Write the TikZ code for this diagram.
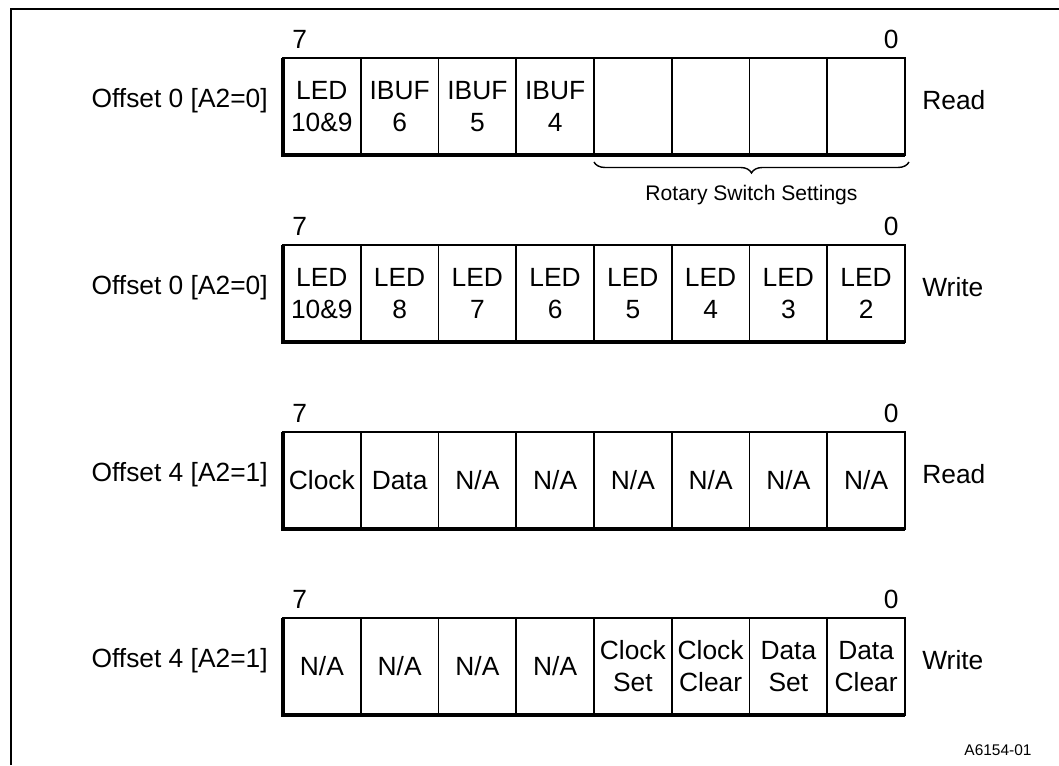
\documentclass[tikz,border=0pt]{standalone}
\usepackage{fontspec}
\setmainfont{Liberation Sans}
\usetikzlibrary{positioning,decorations.pathreplacing}

\begin{document}
\begin{tikzpicture}[
  x=0.02cm, y=-0.02cm,
  font=\fontsize{15}{18.2}\selectfont,
  cell/.style={draw, line width=1.1pt, minimum width=1.555cm, minimum height=1.94cm, inner sep=0pt, outer sep=0pt, anchor=north west, align=center},
  shadow/.style={line width=2.5pt},
  offlbl/.style={inner sep=0pt, yshift=0.12cm},
  bitno/.style={inner sep=0pt}
]
\useasboundingbox (0,0) rectangle (1059,765);
\draw[line width=1.4pt] (11,765) -- (11,9) -- (1059,9);

% offset 0, read
\foreach \txt [count=\k from 0] in {{LED\\10\&9},{IBUF\\6},{IBUF\\5},{IBUF\\4}}
  \node[cell] (a\k) at (283+77.75*\k,58) {\txt};
\foreach \k in {4,...,7}
  \node[cell] (a\k) at (283+77.75*\k,58) {};
\draw[shadow] (a0.north west) -- (a0.south west) -- (a7.south east);
\node[offlbl, left=0.3cm of a0] (a-off) {Offset 0 [A2=0]};
\node[offlbl, right=0.34cm of a7] (a-mode) {Read};
\node[bitno, above right=0.18cm and 0.18cm of a0.north west] (a-msb) {7};
\node[bitno, above left=0.18cm and 0.12cm of a7.north east] (a-lsb) {0};
\draw[line width=0.8pt, decorate, decoration={brace, mirror, amplitude=0.22cm}]
  ([yshift=-0.14cm]a4.south west) -- ([shift={(0.08cm,-0.14cm)}]a7.south east)
  node[midway, below=0.46cm, inner sep=0pt, font=\fontsize{12}{14}\selectfont] (rotary) {Rotary Switch Settings};

% offset 0, write
\foreach \txt [count=\k from 0] in {{LED\\10\&9},{LED\\8},{LED\\7},{LED\\6},{LED\\5},{LED\\4},{LED\\3},{LED\\2}}
  \node[cell] (b\k) at (283+77.75*\k,245) {\txt};
\draw[shadow] (b0.north west) -- (b0.south west) -- (b7.south east);
\node[offlbl, left=0.3cm of b0] (b-off) {Offset 0 [A2=0]};
\node[offlbl, right=0.34cm of b7] (b-mode) {Write};
\node[bitno, above right=0.18cm and 0.18cm of b0.north west] (b-msb) {7};
\node[bitno, above left=0.18cm and 0.12cm of b7.north east] (b-lsb) {0};

% offset 4, read
\foreach \txt [count=\k from 0] in {Clock,Data,N/A,N/A,N/A,N/A,N/A,N/A}
  \node[cell] (c\k) at (283+77.75*\k,432) {\txt};
\draw[shadow] (c0.north west) -- (c0.south west) -- (c7.south east);
\node[offlbl, left=0.3cm of c0] (c-off) {Offset 4 [A2=1]};
\node[offlbl, right=0.34cm of c7] (c-mode) {Read};
\node[bitno, above right=0.18cm and 0.18cm of c0.north west] (c-msb) {7};
\node[bitno, above left=0.18cm and 0.12cm of c7.north east] (c-lsb) {0};

% offset 4, write
\foreach \txt [count=\k from 0] in {N/A,N/A,N/A,N/A,{Clock\\Set},{Clock\\Clear},{Data\\Set},{Data\\Clear}}
  \node[cell] (d\k) at (283+77.75*\k,618) {\txt};
\draw[shadow] (d0.north west) -- (d0.south west) -- (d7.south east);
\node[offlbl, left=0.3cm of d0] (d-off) {Offset 4 [A2=1]};
\node[offlbl, right=0.34cm of d7] (d-mode) {Write};
\node[bitno, above right=0.18cm and 0.18cm of d0.north west] (d-msb) {7};
\node[bitno, above left=0.18cm and 0.12cm of d7.north east] (d-lsb) {0};

\node[font=\fontsize{8.8}{10}\selectfont, inner sep=0pt] (figid) at (998,750) {A6154-01};
\end{tikzpicture}
\end{document}
